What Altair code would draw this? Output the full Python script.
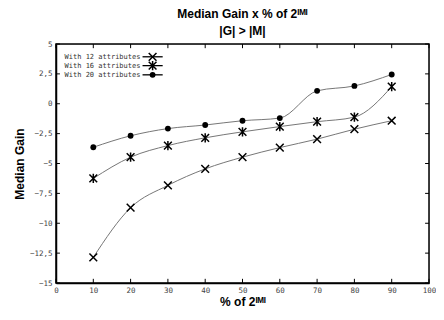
import altair as alt
import pandas as pd

pct = [10, 20, 30, 40, 50, 60, 70, 80, 90]
gain12 = [-12.85, -8.7, -6.83, -5.45, -4.47, -3.67, -2.96, -2.13, -1.42]
gain16 = [-6.25, -4.47, -3.5, -2.85, -2.35, -1.91, -1.5, -1.12, 1.43]
gain20 = [-3.64, -2.68, -2.08, -1.78, -1.42, -1.2, 1.08, 1.49, 2.45]
series = ["With 12 attributes", "With 16 attributes", "With 20 attributes"]
x_ticks = [0, 10, 20, 30, 40, 50, 60, 70, 80, 90, 100]
y_ticks = [5, 2.5, 0, -2.5, -5, -7.5, -10, -12.5, -15]

TW, TH = 428, 300

rows = []
for name, vals in zip(series, [gain12, gain16, gain20]):
    for p, g in zip(pct, vals):
        rows.append({"series": name, "pct": p, "gain": g})
df = pd.DataFrame(rows)

# legend rows placed in data space (top-left inside the frame)
leg = pd.DataFrame({
    "series": series,
    "ly": [3.93, 3.19, 2.42],
    "tx": [2.3, 2.3, 2.3],
    "l1": [23.2, 23.2, 23.2],
    "l2": [28.6, 28.6, 28.6],
    "mx": [25.9, 25.9, 25.9],
})

xs = alt.Scale(domain=[0, 100], nice=False)
ys = alt.Scale(domain=[-15, 5], nice=False)

X_PATH = "M-1,-1L1,1M-1,1L1,-1"
STAR_PATH = "M-1,-1L1,1M-1,1L1,-1M0,-1.2L0,1.2"
shape_scale = alt.Scale(domain=series[:2], range=[X_PATH, STAR_PATH])

lab_font = "DejaVu Sans Mono"

x_axis = alt.Axis(values=x_ticks, ticks=False, labelFont=lab_font, labelFontSize=7.5,
                  labelColor="#444", labelPadding=3, domainColor="black", domainWidth=1.5,
                  grid=False, title="% of 2ᴵᴹᴵ", titleFont="Liberation Sans",
                  titleFontSize=12, titleFontWeight="bold", titlePadding=3,
                  labelOverlap=False, labelFlush=False)
y_axis = alt.Axis(values=y_ticks, ticks=False, labelFont=lab_font, labelFontSize=7.5,
                  labelColor="#444", labelPadding=4, domainColor="black", domainWidth=1.5,
                  grid=False, title="Median Gain", titleFont="Liberation Sans",
                  titleFontSize=12, titleFontWeight="bold", titlePadding=3,
                  labelOverlap=False,
                  labelExpr="replace(format(datum.value, '~g'), '.', ',')")

XN = dict(scale=xs, axis=x_axis)
YN = dict(scale=ys, axis=y_axis)

lines = alt.Chart(df).mark_line(color="#777", strokeWidth=1, interpolate="monotone").encode(
    x=alt.X("pct:Q", **XN),
    y=alt.Y("gain:Q", **YN),
    detail="series:N",
)

cross_pts = alt.Chart(df).transform_filter(
    alt.datum.series != series[2]
).mark_point(filled=False, stroke="black", strokeWidth=1.5, size=60, opacity=1).encode(
    x=alt.X("pct:Q", **XN),
    y=alt.Y("gain:Q", **YN),
    shape=alt.Shape("series:N", scale=shape_scale, legend=None),
)
circle_pts = alt.Chart(df).transform_filter(
    alt.datum.series == series[2]
).mark_point(filled=True, shape="circle", color="black", size=34, opacity=1).encode(
    x=alt.X("pct:Q", **XN),
    y=alt.Y("gain:Q", **YN),
)

# frame (top/right) and inward ticks
xt = pd.DataFrame({"v": x_ticks})
yt = pd.DataFrame({"v": y_ticks})
frame = alt.Chart(pd.DataFrame({"a": [0]})).mark_rect(fill=None, stroke="black", strokeWidth=1.5).encode(
    x=alt.value(0), x2=alt.value("width"), y=alt.value(0), y2=alt.value("height"))
tick_b = alt.Chart(xt).mark_rule(color="black").encode(
    x=alt.X("v:Q", **XN), y=alt.Y("v:Q", scale=ys, axis=y_axis).__class__("v:Q", scale=ys, axis=y_axis) if False else alt.value("height"),
    y2=alt.value("height"))
tick_b = alt.Chart(xt).transform_calculate(lo="-15", hi="-14.65").mark_rule(color="black").encode(
    x=alt.X("v:Q", **XN), y=alt.Y("lo:Q", **YN), y2="hi:Q")
tick_t = alt.Chart(xt).transform_calculate(lo="5", hi="4.65").mark_rule(color="black").encode(
    x=alt.X("v:Q", **XN), y=alt.Y("lo:Q", **YN), y2="hi:Q")
tick_l = alt.Chart(yt).transform_calculate(lo="0", hi="1.05").mark_rule(color="black").encode(
    y=alt.Y("v:Q", **YN), x=alt.X("lo:Q", **XN), x2="hi:Q")
tick_r = alt.Chart(yt).transform_calculate(lo="100", hi="98.95").mark_rule(color="black").encode(
    y=alt.Y("v:Q", **YN), x=alt.X("lo:Q", **XN), x2="hi:Q")

leg_text = alt.Chart(leg).mark_text(align="left", baseline="middle", font=lab_font,
                                    fontSize=7, color="#333").encode(
    x=alt.X("tx:Q", **XN), y=alt.Y("ly:Q", **YN), text="series:N")
leg_line = alt.Chart(leg).mark_rule(color="black", strokeWidth=1.3).encode(
    x=alt.X("l1:Q", **XN), x2="l2:Q", y=alt.Y("ly:Q", **YN))
leg_mk = alt.Chart(leg).transform_filter(alt.datum.series != series[2]).mark_point(
    filled=False, stroke="black", strokeWidth=1.5, size=60, opacity=1).encode(
    x=alt.X("mx:Q", **XN), y=alt.Y("ly:Q", **YN),
    shape=alt.Shape("series:N", scale=shape_scale, legend=None))
leg_circ = alt.Chart(leg).transform_filter(alt.datum.series == series[2]).mark_point(
    filled=True, shape="circle", color="black", size=34, opacity=1).encode(
    x=alt.X("mx:Q", **XN), y=alt.Y("ly:Q", **YN))

chart = alt.layer(
    lines, cross_pts, circle_pts, frame, tick_b, tick_t, tick_l, tick_r,
    leg_text, leg_line, leg_mk, leg_circ,
).properties(
    width=TW, height=TH,
    autosize=alt.AutoSizeParams(type="fit", contains="padding"),
    padding={"left": 5, "top": 0, "right": 0, "bottom": 0},
    title=alt.Title(["Median Gain x % of 2ᴵᴹᴵ", "|G| > |M|"], font="Liberation Sans",
                    fontSize=12, fontWeight="bold", anchor="middle", offset=-1, dy=-3,
                    lineHeight=17),
).configure_view(stroke=None).configure(background="white")

chart.save("out.html", embed_options={"renderer": "svg", "actions": False})
